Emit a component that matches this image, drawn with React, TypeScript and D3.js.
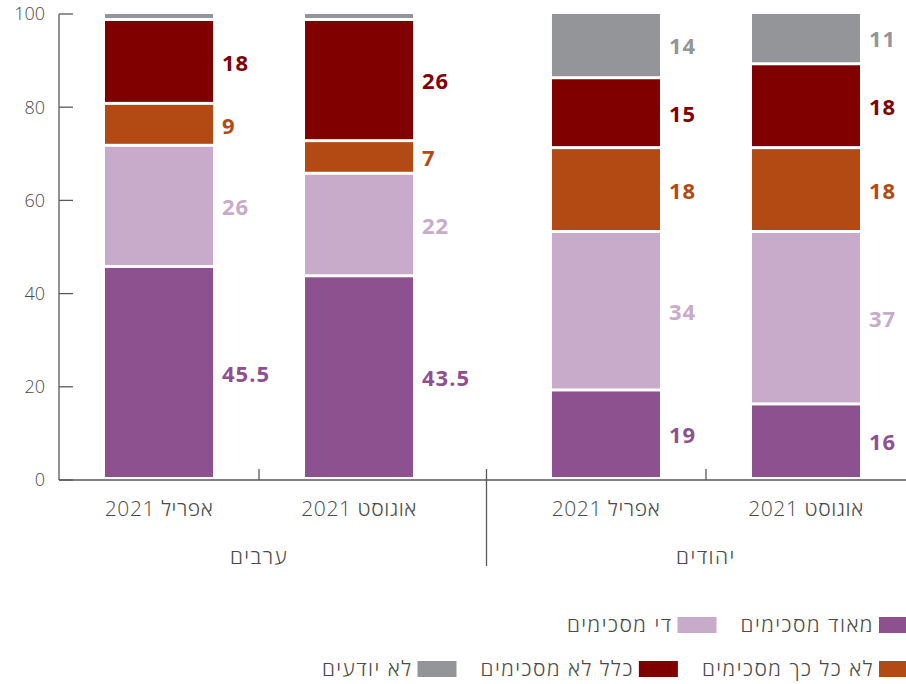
import * as d3 from 'd3';
import { useEffect, useRef } from 'react';

const groups = ['ערבים', 'יהודים'];
const months = ['אפריל 2021', 'אוגוסט 2021'];
const seriesNames = ['מאוד מסכימים', 'די מסכימים', 'לא כל כך מסכימים', 'כלל לא מסכימים', 'לא יודעים'];
const colors = ['#8e5190', '#c8abca', '#b34a13', '#800000', '#939598'];

// one value per bar: ערבים אפריל, ערבים אוגוסט, יהודים אפריל, יהודים אוגוסט
const veryAgree = [45.5, 43.5, 19, 16];
const quiteAgree = [26, 22, 34, 37];
const notSoAgree = [9, 7, 18, 18];
const notAtAll = [18, 26, 15, 18];
const dontKnow = [1.5, 1.5, 14, 11];
const yTicks = [0, 20, 40, 60, 80, 100];
const legendRows = [[0, 1], [2, 3, 4]];

const W = 906;
const H = 684;
const FONT = '"Open Sans", "DejaVu Sans", sans-serif';
const AXIS = '#595959';
const TEXT = '#4a4a4a';

export default function App() {
  const svgRef = useRef<SVGSVGElement | null>(null);

  useEffect(() => {
    const svg = d3.select(svgRef.current);
    svg.selectAll('*').remove();

    const series = [veryAgree, quiteAgree, notSoAgree, notAtAll, dontKnow];
    const rows = veryAgree.map((_, i) => {
      const r: any = { group: groups[Math.floor(i / 2)], month: months[i % 2] };
      seriesNames.forEach((s, k) => (r[s] = series[k][i]));
      return r;
    });
    const stacked = d3.stack().keys(seriesNames)(rows);

    const x0 = d3.scaleBand().domain(groups).range([59, W]).paddingInner(0.105).paddingOuter(0);
    const x1 = d3
      .scaleBand()
      .domain(months)
      .range([0, x0.bandwidth()])
      .paddingInner(0.46)
      .paddingOuter(0.23);
    const y = d3.scaleLinear().domain([0, 100]).range([480, 14]);
    const barX = (d: any) => (x0(d.data.group) ?? 0) + (x1(d.data.month) ?? 0);

    // y axis
    svg.append('line').attr('x1', 59).attr('x2', 59).attr('y1', y(100)).attr('y2', y(0))
      .attr('stroke', AXIS).attr('stroke-width', 1.3);
    yTicks.forEach((t) => {
      svg.append('line').attr('x1', 59).attr('x2', 73).attr('y1', y(t)).attr('y2', y(t))
        .attr('stroke', AXIS).attr('stroke-width', 1.3);
      svg.append('text').attr('x', 45).attr('y', y(t)).attr('dy', '0.35em')
        .attr('text-anchor', 'end').attr('fill', TEXT).style('font-size', '18px')
        .style('font-weight', 300).text(t);
    });

    // stacked bars
    stacked.forEach((layer, k) => {
      const g = svg.append('g');
      g.selectAll('rect')
        .data(layer)
        .join('rect')
        .attr('x', barX)
        .attr('width', x1.bandwidth())
        .attr('y', (d) => y(d[1]))
        .attr('height', (d) => Math.max(0, y(d[0]) - y(d[1]) - 3))
        .attr('fill', colors[k]);
      g.selectAll('text')
        .data(layer.filter((d) => d[1] - d[0] >= 3))
        .join('text')
        .attr('x', (d) => barX(d) + x1.bandwidth() + 9)
        .attr('y', (d) => (y(d[0]) + y(d[1])) / 2)
        .attr('dy', '0.35em')
        .attr('fill', colors[k])
        .style('font-size', '22px')
        .style('font-weight', 'bold')
        .style('letter-spacing', '1px')
        .text((d) => String(d[1] - d[0]));
    });

    // x axis
    svg.append('line').attr('x1', 59).attr('x2', W).attr('y1', y(0)).attr('y2', y(0))
      .attr('stroke', AXIS).attr('stroke-width', 1.3);
    const divider = (x0(groups[1]) ?? 0) - (x0.step() * x0.paddingInner()) / 2 + 4;
    svg.append('line').attr('x1', divider).attr('x2', divider).attr('y1', y(0) - 11).attr('y2', 566)
      .attr('stroke', AXIS).attr('stroke-width', 1.3);
    groups.forEach((grp) => {
      const cx = (x0(grp) ?? 0) + x0.bandwidth() / 2;
      svg.append('line').attr('x1', cx).attr('x2', cx).attr('y1', y(0) - 11).attr('y2', y(0))
        .attr('stroke', AXIS).attr('stroke-width', 1.3);
      svg.append('text').attr('x', cx).attr('y', 557).attr('dy', '0.35em')
        .attr('text-anchor', 'middle').attr('fill', TEXT).style('font-size', '21px')
        .style('font-weight', 300).style('letter-spacing', '1.5px').text(grp);
      months.forEach((m) => {
        svg.append('text')
          .attr('x', (x0(grp) ?? 0) + (x1(m) ?? 0) + x1.bandwidth() / 2)
          .attr('y', 509)
          .attr('dy', '0.35em')
          .attr('text-anchor', 'middle')
          .attr('fill', TEXT)
          .style('font-size', '21px')
          .style('font-weight', 300)
          .style('letter-spacing', '0.6px')
          .text(m);
      });
    });

    // legend, right to left
    legendRows.forEach((row, ri) => {
      const cy = 625 + ri * 44;
      let right = 918;
      row.forEach((k) => {
        svg.append('rect').attr('x', right - 39).attr('y', cy - 8).attr('width', 39).attr('height', 16)
          .attr('fill', colors[k]);
        const t = svg.append('text').attr('x', right - 39 - 5).attr('y', cy).attr('dy', '0.35em')
          .attr('text-anchor', 'end').attr('fill', TEXT).style('font-size', '21px')
          .style('font-weight', 300).style('letter-spacing', '1.5px').text(seriesNames[k]);
        const w = (t.node() as SVGTextElement).getComputedTextLength();
        right = right - 39 - 5 - w - 24;
      });
    });
  }, []);

  return (
    <svg
      ref={svgRef}
      width={W}
      height={H}
      style={{ position: 'absolute', left: 0, top: 0, fontFamily: FONT, background: '#fff' }}
    />
  );
}
